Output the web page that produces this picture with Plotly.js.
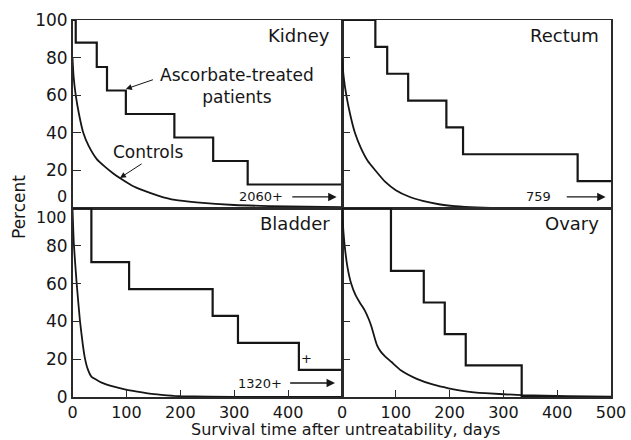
<!DOCTYPE html>
<html>
<head>
<meta charset="utf-8">
<script src="https://cdn.plot.ly/plotly-3.0.1.min.js"></script>
<style>html,body{margin:0;padding:0;background:#fff;}#chart{width:631px;height:440px;}</style>
</head>
<body>
<div id="chart"></div>
<script>
// ---- Data ----
const panels = ["Kidney", "Rectum", "Bladder", "Ovary"];

// Ascorbate-treated patients (step survival curves): change points (days) and percent
const kidneyTreatedX = [0, 6, 45, 64, 99, 189, 261, 325, 500];
const kidneyTreatedY = [100, 88, 75, 62.5, 50, 37.5, 25, 12.5, 12.5];
const rectumTreatedX = [0, 62, 84, 123, 194, 225, 438, 500];
const rectumTreatedY = [100, 85.7, 71.4, 57.1, 42.9, 28.6, 14.3, 14.3];
const bladderTreatedX = [0, 35, 105, 260, 307, 420, 500];
const bladderTreatedY = [100, 71.4, 57.1, 42.9, 28.6, 14.3, 14.3];
const ovaryTreatedX = [0, 91, 152, 191, 230, 334, 500];
const ovaryTreatedY = [100, 66.7, 50, 33.3, 16.7, 0, 0];

// Controls (smooth survival curves)
const kidneyControlX = [0, 2, 6, 12, 20, 30, 45, 60, 75, 90, 110, 130, 160, 190, 230, 300, 400, 500];
const kidneyControlY = [80, 70, 60, 50, 40, 33, 26, 22, 18.5, 15.5, 12, 9.5, 6.5, 4.3, 3, 1.6, 0.8, 0.4];
const rectumControlX = [0, 3, 8, 15, 24, 35, 48, 62, 80, 100, 125, 150, 180, 210, 250, 300, 500];
const rectumControlY = [80, 70, 60, 50, 40, 32, 25, 20, 14, 9.5, 6, 3.8, 2, 1, 0.3, 0, 0];
const bladderControlX = [0, 2.5, 7.5, 13.6, 19, 23, 28, 35, 45, 54, 75, 97, 120, 147, 175, 200, 300, 500];
const bladderControlY = [100, 81, 61, 41, 28, 20.6, 15, 10.8, 9, 7.6, 5.6, 4, 2.8, 1.6, 0.9, 0.4, 0, 0];
const ovaryControlX = [0, 2, 5, 10, 17, 25, 33, 42, 50, 55, 60, 65, 72, 80, 92, 110, 139, 170, 198, 230, 266, 334, 420, 500];
const ovaryControlY = [100, 90, 80, 69, 60, 54, 50, 46, 41, 37, 32, 27.5, 24, 21.5, 18.5, 14, 9.6, 6.5, 4.6, 3, 2, 1, 0.5, 0.2];

// Tick labels
const yTickTop = [20, 40, 60, 80, 100];
const yTickBottom = [0, 20, 40, 60, 80];
const yTickMarks = [20, 40, 60, 80];
const xTickLeft = [0, 100, 200, 300, 400];
const xTickRight = [0, 100, 200, 300, 400, 500];

// Follow-up notes
const followUp = ["2060+", "759", "1320+", ""];

// ---- Build ----
const FONT = "DejaVu Sans, Verdana, sans-serif";
const INK = "#161616";
const treated = [[kidneyTreatedX, kidneyTreatedY], [rectumTreatedX, rectumTreatedY], [bladderTreatedX, bladderTreatedY], [ovaryTreatedX, ovaryTreatedY]];
const controls = [[kidneyControlX, kidneyControlY], [rectumControlX, rectumControlY], [bladderControlX, bladderControlY], [ovaryControlX, ovaryControlY]];
const axId = ["", "2", "3", "4"];

const traces = [];
for (let i = 0; i < 4; i++) {
  traces.push({x: treated[i][0], y: treated[i][1], type: "scatter", mode: "lines",
    line: {shape: "hv", color: INK, width: 2.2}, xaxis: "x" + axId[i], yaxis: "y" + axId[i],
    name: "Ascorbate-treated patients", showlegend: false, hoverinfo: "skip", cliponaxis: false});
  traces.push({x: controls[i][0], y: controls[i][1], type: "scatter", mode: "lines",
    line: {shape: "spline", smoothing: 0.5, color: INK, width: 1.8}, xaxis: "x" + axId[i], yaxis: "y" + axId[i],
    name: "Controls", showlegend: false, hoverinfo: "skip"});
}

const W = 631, H = 440;
const xL = [72.5 / W, 342 / W], xR = [342 / W, 611 / W];
const yT = [1 - 208 / H, 1 - 20 / H], yB = [1 - 397 / H, 1 - 208 / H];

function xa(domain, anchor, tickvals, labels) {
  return {domain: domain, anchor: anchor, range: [0, 500], showgrid: false, zeroline: false,
    showline: true, mirror: true, linecolor: "#2a2a2a", linewidth: 1.5,
    tickmode: "array", tickvals: tickvals, showticklabels: labels,
    ticks: tickvals.length ? "inside" : "", ticklen: 7, tickwidth: 1.2, tickcolor: "#2a2a2a",
    tickfont: {family: FONT, size: 16, color: INK}, fixedrange: true};
}
function ya(domain, anchor, tickvals, labels) {
  return {domain: domain, anchor: anchor, range: [0, 100], showgrid: false, zeroline: false,
    showline: true, mirror: true, linecolor: "#2a2a2a", linewidth: 1.5,
    tickmode: "array", tickvals: tickvals, showticklabels: labels,
    ticks: "inside", ticklen: 8, tickwidth: 1.2, tickcolor: "#2a2a2a",
    tickfont: {family: FONT, size: 17, color: INK}, fixedrange: true};
}

const annotations = [];
const labelPos = [["x", "y"], ["x2", "y2"], ["x3", "y3"], ["x4", "y4"]];
for (let i = 0; i < 4; i++) {
  annotations.push({xref: labelPos[i][0], yref: labelPos[i][1], x: 482, y: 92, xanchor: "right", yanchor: "middle",
    text: panels[i], showarrow: false, font: {family: FONT, size: 18, color: INK}});
}
// follow-up notes with arrows
const noteY = [5.9, 5.9, 7.4];
const noteTextX = [395, 392, 392];
const noteTail = [405, 415, 401];
const noteTip = [490, 490, 487];
for (let i = 0; i < 3; i++) {
  annotations.push({xref: labelPos[i][0], yref: labelPos[i][1], x: noteTextX[i], y: noteY[i], xanchor: "right", yanchor: "middle",
    text: followUp[i], showarrow: false, font: {family: FONT, size: 13, color: INK}});
  annotations.push({xref: labelPos[i][0], yref: labelPos[i][1], x: noteTip[i], y: noteY[i],
    axref: labelPos[i][0], ayref: labelPos[i][1], ax: noteTail[i], ay: noteY[i],
    text: "", showarrow: true, arrowhead: 2, arrowsize: 1.3, arrowwidth: 1.3, arrowcolor: INK});
}
annotations.push({xref: "x3", yref: "y3", x: 434, y: 20.2, text: "+", showarrow: false, font: {family: FONT, size: 13, color: INK}});
// series labels
annotations.push({xref: "x", yref: "y", x: 306, y: 65, text: "Ascorbate-treated<br>patients", showarrow: false,
  font: {family: FONT, size: 17, color: INK}, align: "center"});
annotations.push({xref: "x", yref: "y", x: 99, y: 63.3, axref: "x", ayref: "y", ax: 152, ay: 68.5, text: "",
  showarrow: true, arrowhead: 2, arrowsize: 1.2, arrowwidth: 1, arrowcolor: INK});
annotations.push({xref: "x", yref: "y", x: 140, y: 29.8, text: "Controls", showarrow: false,
  font: {family: FONT, size: 17, color: INK}});
annotations.push({xref: "x", yref: "y", x: 88, y: 16, axref: "x", ayref: "y", ax: 131, ay: 24, text: "",
  showarrow: true, arrowhead: 2, arrowsize: 1.2, arrowwidth: 1, arrowcolor: INK});
// offset end labels on the shared boundary
annotations.push({xref: "paper", yref: "y", x: 68 / W, y: 6.2, xanchor: "right", yanchor: "middle", text: "0",
  showarrow: false, borderpad: 0, font: {family: FONT, size: 16, color: INK}});
annotations.push({xref: "paper", yref: "y3", x: 68 / W, y: 95, xanchor: "right", yanchor: "middle", text: "100",
  showarrow: false, borderpad: 0, font: {family: FONT, size: 16, color: INK}});
// axis titles
annotations.push({xref: "paper", yref: "paper", x: 345 / W, y: 1 - 429 / H, xanchor: "center", yanchor: "middle",
  text: "Survival time after untreatability, days", showarrow: false, borderpad: 0, font: {family: FONT, size: 16, color: INK}});
annotations.push({xref: "paper", yref: "paper", x: 19 / W, y: 1 - 207 / H, xanchor: "center", yanchor: "middle",
  text: "Percent", textangle: -90, showarrow: false, font: {family: FONT, size: 17, color: INK}});

const layout = {
  width: W, height: H, margin: {l: 0, r: 0, t: 0, b: 0, autoexpand: false},
  paper_bgcolor: "#fff", plot_bgcolor: "rgba(0,0,0,0)", showlegend: false,
  font: {family: FONT, color: INK},
  xaxis: xa(xL, "y", [], false), yaxis: ya(yT, "x", yTickTop, true),
  xaxis2: xa(xR, "y2", [], false), yaxis2: ya(yT, "x2", yTickMarks, false),
  xaxis3: xa(xL, "y3", xTickLeft, true), yaxis3: ya(yB, "x3", yTickBottom, true),
  xaxis4: xa(xR, "y4", xTickRight, true), yaxis4: ya(yB, "x4", yTickMarks, false),
  annotations: annotations
};
Plotly.newPlot("chart", traces, layout, {staticPlot: true, displayModeBar: false});
</script>
</body>
</html>
